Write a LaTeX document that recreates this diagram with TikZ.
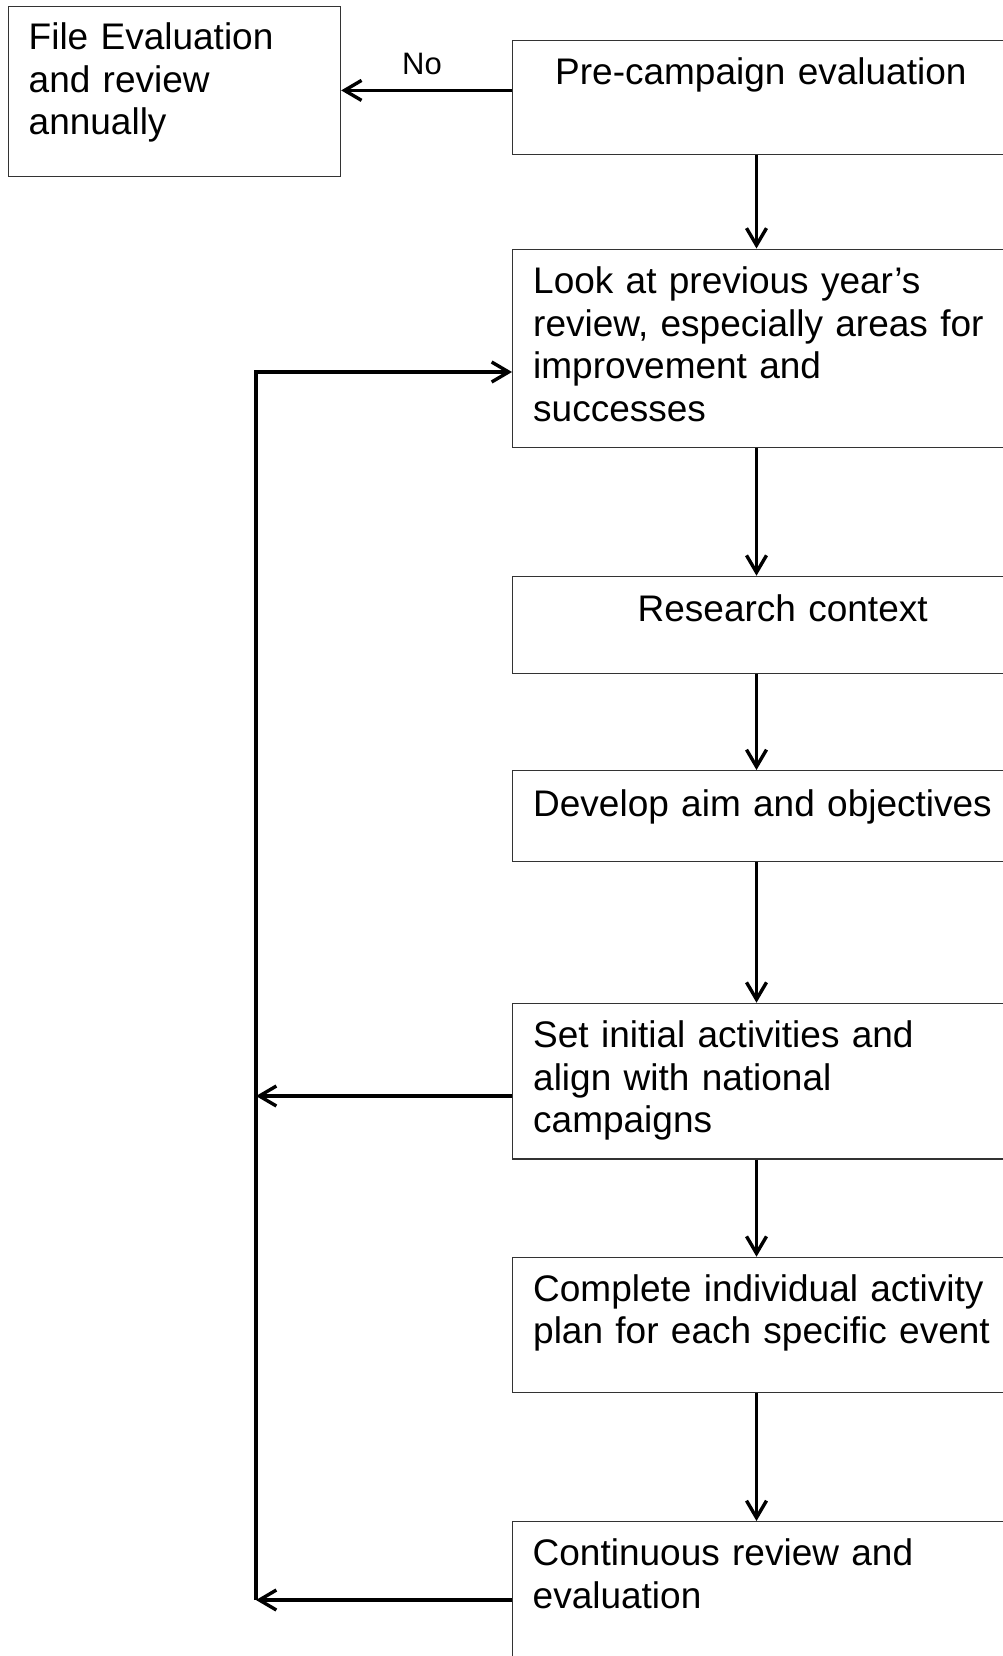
\documentclass[tikz,border=0pt]{standalone}
\usepackage{fontspec}
\setmainfont{Liberation Sans}
\usetikzlibrary{arrows.meta}

\begin{document}
\begin{tikzpicture}[
  x=1pt, y=-1pt,
  font=\fontsize{37}{42.7}\selectfont,
  stepbox/.style={draw=black!80,line width=1.2pt,anchor=north west,
    inner sep=0pt,minimum width=498pt},
  txt/.style={anchor=base west,align=left,text width=470pt,inner sep=0pt},
  arrow/.style={-{Straight Barb[length=17pt,width=20pt]},line width=3.4pt}
]
  \useasboundingbox (0,0) rectangle (1002,1656);

  % boxes
  \node[stepbox,minimum width=332pt,minimum height=170pt] (file) at (8,6) {};
  \node[stepbox,minimum height=114pt] (pre) at (512,40) {};
  \node[stepbox,minimum height=198pt] (look) at (512,248.5) {};
  \node[stepbox,minimum height=97.5pt] (research) at (512,575.7) {};
  \node[stepbox,minimum height=90.7pt] (develop) at (512,770) {};
  \node[stepbox,minimum height=155.6pt] (setinit) at (512,1002.7) {};
  \node[stepbox,minimum height=135pt] (complete) at (512,1256.7) {};
  \node[stepbox,minimum height=180pt] (cont) at (512,1521) {};

  % texts
  \node[txt] (filetxt) at (28.5,49.5)
    {File Evaluation\\and review\\annually};
  \node[txt] (pretxt) at (555,85) {Pre-campaign evaluation};
  \node[txt] (looktxt) at (533,293.3)
    {Look at previous year’s\\review, especially areas for\\improvement and\\successes};
  \node[txt] (researchtxt) at (637.5,621) {Research context};
  \node[txt] (developtxt) at (533,816) {Develop aim and objectives};
  \node[txt] (setinittxt) at (533,1047.3)
    {Set initial activities and\\align with national\\campaigns};
  \node[txt] (completetxt) at (533,1301)
    {Complete individual activity\\plan for each specific event};
  \node[txt] (conttxt) at (532.5,1565.7)
    {Continuous review and\\evaluation};
  \node[anchor=base,inner sep=0pt,font=\fontsize{31}{36}\selectfont]
    (no) at (422,74.3) {No};

  % connectors
  \coordinate (spine) at (756.5,0);
  \coordinate (ltop) at (256,372);
  \coordinate (lmid) at (256,1096);
  \coordinate (lbot) at (256,1600);

  \draw[arrow] ([yshift=7.2pt]pre.west) -- ([yshift=7.2pt]pre.west -| file.east);
  \foreach \a/\b in {pre/look,look/research,research/develop,
    develop/setinit,setinit/complete,complete/cont} {
    \draw[arrow] (\a.south -| spine) -- (\b.north -| spine);
  }
  \draw[arrow] (lbot) -- (ltop) -- (ltop -| look.west);
  \draw[arrow] (lmid -| setinit.west) -- (lmid);
  \draw[arrow] (lbot -| cont.west) -- (lbot);
\end{tikzpicture}
\end{document}
